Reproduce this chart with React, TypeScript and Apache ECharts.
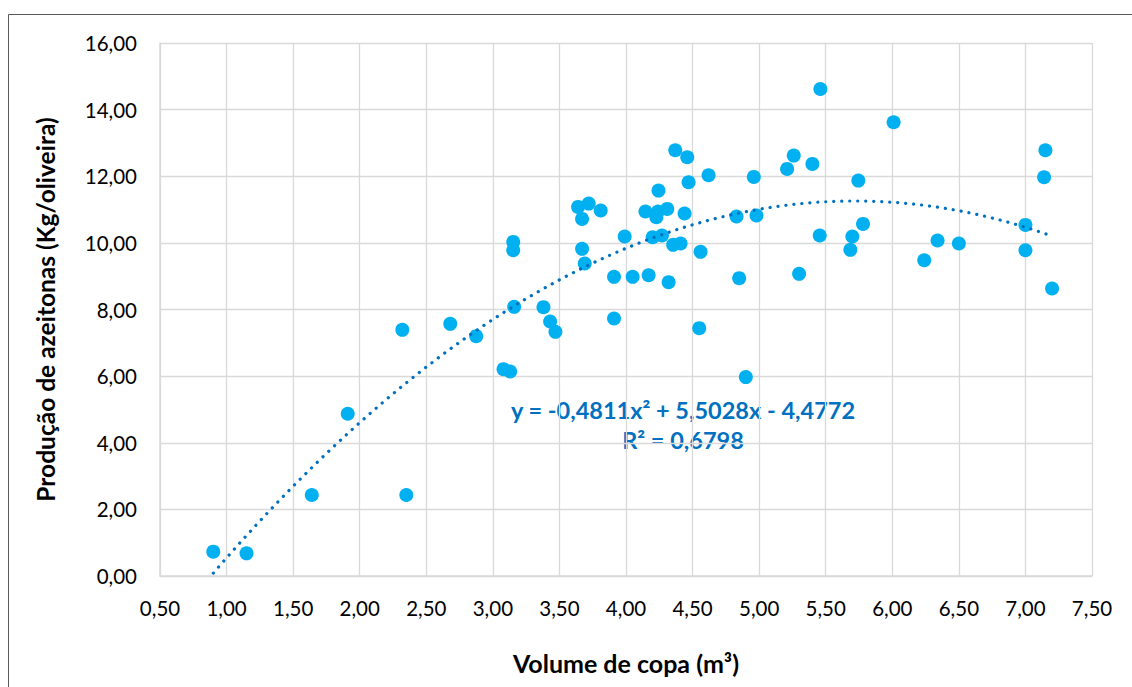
import React, { useEffect, useRef } from "react";
import * as echarts from "echarts";

const volumeCopa: number[] = [
  0.90, 1.15, 1.64, 1.91, 2.32, 2.35, 2.68, 2.875, 3.08, 3.13,
  3.153, 3.153, 3.16, 3.38, 3.43, 3.47, 3.64, 3.72, 3.67, 3.81,
  3.67, 3.69, 3.91, 3.91, 3.99, 4.05, 4.17, 4.146, 4.24, 4.228,
  4.31, 4.244, 4.20, 4.27, 4.32, 4.354, 4.41, 4.37, 4.46, 4.47,
  4.44, 4.56, 4.55, 4.62, 4.83, 4.85, 4.96, 4.98, 4.90, 5.46,
  6.01, 5.26, 5.21, 5.40, 5.745, 5.455, 5.78, 5.70, 5.685, 5.30,
  6.24, 6.34, 6.50, 7.00, 7.00, 7.15, 7.14, 7.20,
];
const producao: number[] = [
  0.73, 0.68, 2.43, 4.87, 7.39, 2.43, 7.57, 7.20, 6.21, 6.14,
  10.03, 9.78, 8.08, 8.07, 7.64, 7.33, 11.08, 11.18, 10.72, 10.97,
  9.82, 9.38, 7.73, 8.98, 10.19, 8.98, 9.03, 10.94, 10.94, 10.77,
  11.02, 11.57, 10.17, 10.22, 8.82, 9.94, 9.98, 12.78, 12.57, 11.82,
  10.88, 9.73, 7.44, 12.03, 10.79, 8.94, 11.98, 10.82, 5.97, 14.62,
  13.62, 12.62, 12.22, 12.37, 11.87, 10.22, 10.57, 10.19, 9.79, 9.07,
  9.48, 10.07, 9.98, 10.54, 9.78, 12.78, 11.97, 8.63,
];
// Polynomial trendline coefficients shown on the chart: a*x^2 + b*x + c
const trendCoef: number[] = [-0.4811, 5.5028, -4.4772];
const equationText = "y = -0,4811x² + 5,5028x - 4,4772";
const r2Text = "R² = 0,6798";
const xAxisTitle = "Volume de copa (m³)";
const yAxisTitle = "Produção de azeitonas (Kg/oliveira)";

const fmt = (v: number) => v.toFixed(2).replace(".", ",");

export default function App() {
  const ref = useRef<HTMLDivElement>(null);
  useEffect(() => {
    if (!ref.current) return;
    const chart = echarts.init(ref.current, null, { renderer: "svg" });
    const points = volumeCopa.map((x, i) => [x, producao[i]]);
    const xMin = Math.min(...volumeCopa);
    const xMax = Math.max(...volumeCopa);
    const trend: number[][] = [];
    const steps = 120;
    for (let i = 0; i <= steps; i++) {
      const x = xMin + ((xMax - xMin) * i) / steps;
      trend.push([x, trendCoef[0] * x * x + trendCoef[1] * x + trendCoef[2]]);
    }
    const font = "Lato, 'Open Sans', sans-serif";
    chart.setOption({
      animation: false,
      backgroundColor: "#ffffff",
      grid: { left: 160, right: 40, top: 43, bottom: 111, containLabel: false },
      xAxis: {
        type: "value",
        min: 0.5,
        max: 7.5,
        interval: 0.5,
        name: xAxisTitle,
        nameLocation: "middle",
        nameGap: 74,
        nameTextStyle: { fontFamily: font, fontWeight: "bold", fontSize: 25, color: "#000" },
        axisLine: { show: true, lineStyle: { color: "#d9d9d9", width: 1.5 } },
        axisTick: { show: false },
        axisLabel: { formatter: fmt, fontFamily: font, fontSize: 20.5, color: "#000", margin: 21 },
        splitLine: { show: true, lineStyle: { color: "#d9d9d9", width: 1.3 } },
      },
      yAxis: {
        type: "value",
        min: 0,
        max: 16,
        interval: 2,
        name: yAxisTitle,
        nameLocation: "middle",
        nameGap: 102,
        nameTextStyle: { fontFamily: font, fontWeight: "bold", fontSize: 24.5, color: "#000" },
        axisLine: { show: true, lineStyle: { color: "#d9d9d9", width: 1.5 } },
        axisTick: { show: false },
        axisLabel: { formatter: fmt, fontFamily: font, fontSize: 20.5, color: "#000", margin: 23 },
        splitLine: { show: true, lineStyle: { color: "#d9d9d9", width: 1.3 } },
      },
      series: [
        {
          type: "scatter",
          data: points,
          symbol: "circle",
          symbolSize: 14,
          itemStyle: { color: "#00B0F0", opacity: 1 },
          z: 2,
        },
        {
          type: "line",
          data: trend,
          showSymbol: false,
          smooth: false,
          lineStyle: { color: "#0070C0", width: 3.2, type: [0.1, 7.9], cap: "round" },
          z: 3,
        },
      ],
      graphic: [
        {
          type: "rect",
          shape: { x: 8.5, y: 14.5, width: 1200, height: 800 },
          style: { fill: "none", stroke: "#595959", lineWidth: 1 },
          silent: true,
        },
        {
          type: "text",
          x: 683,
          y: 410,
          style: {
            text: equationText,
            fontFamily: font,
            fontWeight: "bold",
            fontSize: 23.5,
            fill: "#0070C0",
            align: "center",
            verticalAlign: "middle",
          },
        },
        {
          type: "text",
          x: 683,
          y: 440,
          style: {
            text: r2Text,
            fontFamily: font,
            fontWeight: "bold",
            fontSize: 23.5,
            fill: "#0070C0",
            align: "center",
            verticalAlign: "middle",
          },
        },
      ],
    });
    return () => chart.dispose();
  }, []);
  return (
    <div
      ref={ref}
      style={{ position: "absolute", left: 0, top: 0, width: 1132, height: 687, background: "#fff" }}
    />
  );
}
